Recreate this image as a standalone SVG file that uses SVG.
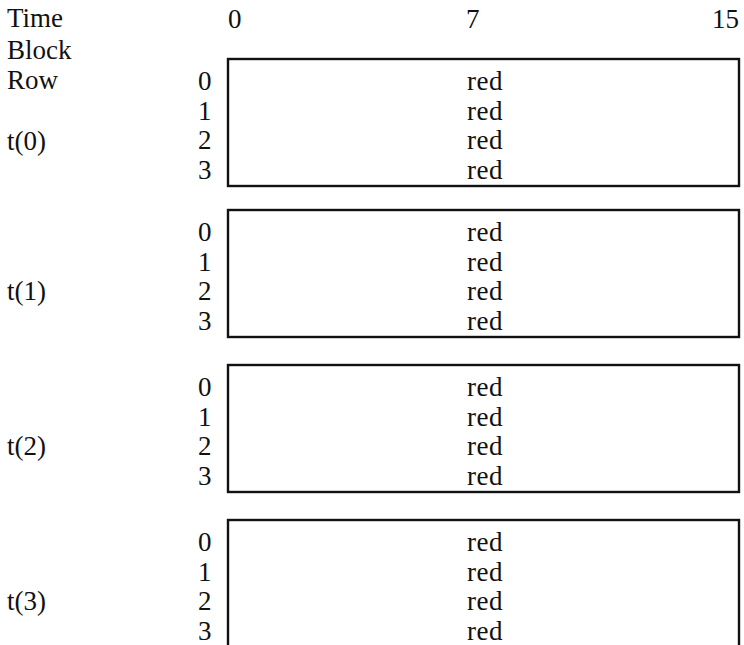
<svg xmlns="http://www.w3.org/2000/svg" width="744" height="645" viewBox="0 0 744 645">
<style>
text{font-family:"Liberation Serif","Times New Roman",serif;font-size:27px;fill:#111}
.red{text-anchor:middle;letter-spacing:0.5px}
.box{fill:none;stroke:#111;stroke-width:2.4}
</style>
<rect width="744" height="645" fill="#fff"/>
<g id="header">
<text x="7" y="27">Time</text>
<text x="7" y="59">Block</text>
<text x="7" y="89">Row</text>
<text x="228" y="28">0</text>
<text x="466" y="28">7</text>
<text x="739" y="28" text-anchor="end">15</text>
</g>
<g id="block0">
<text x="7" y="150">t(0)</text>
<rect class="box" x="228" y="59" width="511" height="127"/>
<text x="198" y="90">0</text><text x="198" y="119.5">1</text><text x="198" y="149">2</text><text x="198" y="178.5">3</text>
<text class="red" x="485" y="90">red</text><text class="red" x="485" y="119.5">red</text><text class="red" x="485" y="149">red</text><text class="red" x="485" y="178.5">red</text>
</g>
<g id="block1">
<text x="7" y="300">t(1)</text>
<rect class="box" x="228" y="210" width="511" height="127"/>
<text x="198" y="241">0</text><text x="198" y="270.5">1</text><text x="198" y="300">2</text><text x="198" y="329.5">3</text>
<text class="red" x="485" y="241">red</text><text class="red" x="485" y="270.5">red</text><text class="red" x="485" y="300">red</text><text class="red" x="485" y="329.5">red</text>
</g>
<g id="block2">
<text x="7" y="455">t(2)</text>
<rect class="box" x="228" y="365" width="511" height="127"/>
<text x="198" y="396">0</text><text x="198" y="425.5">1</text><text x="198" y="455">2</text><text x="198" y="484.5">3</text>
<text class="red" x="485" y="396">red</text><text class="red" x="485" y="425.5">red</text><text class="red" x="485" y="455">red</text><text class="red" x="485" y="484.5">red</text>
</g>
<g id="block3">
<text x="7" y="610">t(3)</text>
<rect class="box" x="228" y="520" width="511" height="140"/>
<text x="198" y="551">0</text><text x="198" y="580.5">1</text><text x="198" y="610">2</text><text x="198" y="639.5">3</text>
<text class="red" x="485" y="551">red</text><text class="red" x="485" y="580.5">red</text><text class="red" x="485" y="610">red</text><text class="red" x="485" y="639.5">red</text>
</g>
<g id="connectors"/>
</svg>
